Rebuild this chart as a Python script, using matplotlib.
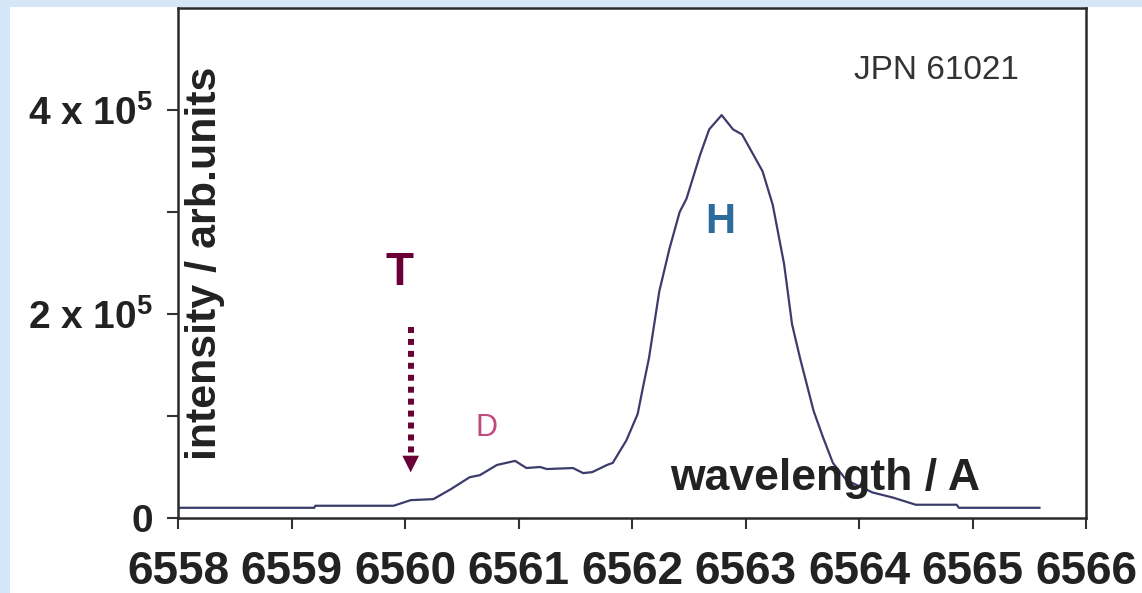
import matplotlib
matplotlib.use("Agg")
import matplotlib.pyplot as plt
from matplotlib.patches import Rectangle

# spectrum (wavelength in A, intensity in arb. units)
wavelength = [6558.0, 6559.2, 6559.21, 6559.9, 6560.05, 6560.25, 6560.4, 6560.57,
              6560.66, 6560.81, 6560.97, 6561.07, 6561.19, 6561.25, 6561.48, 6561.57,
              6561.65, 6561.78, 6561.83, 6561.95, 6562.05, 6562.1, 6562.15, 6562.24,
              6562.33, 6562.42, 6562.48, 6562.6, 6562.68, 6562.79, 6562.89, 6562.97,
              6563.15, 6563.24, 6563.34, 6563.41, 6563.48, 6563.6, 6563.68, 6563.77,
              6563.89, 6564.12, 6564.3, 6564.5, 6564.86, 6564.88, 6565.59]
intensity_1e4 = [1.0, 1.0, 1.2, 1.2, 1.75, 1.85, 2.8, 4.0,
                 4.2, 5.2, 5.6, 4.9, 5.0, 4.8, 4.9, 4.4,
                 4.5, 5.2, 5.4, 7.6, 10.2, 13.0, 15.7, 22.2,
                 26.4, 30.0, 31.3, 35.6, 38.1, 39.5, 38.1, 37.6,
                 34.0, 30.7, 24.9, 19.0, 15.7, 10.5, 8.0, 5.4,
                 3.7, 2.5, 2.0, 1.3, 1.3, 1.0, 1.0]
intensity = [v * 1e4 for v in intensity_1e4]

x_ticks = [6558, 6559, 6560, 6561, 6562, 6563, 6564, 6565, 6566]
y_ticks = [0, 1e5, 2e5, 3e5, 4e5]
y_tick_labels = ["0", "", "2 x 10$^{5}$", "", "4 x 10$^{5}$"]

plt.rcParams["font.family"] = ["Liberation Sans", "DejaVu Sans"]
plt.rcParams["mathtext.fontset"] = "custom"
plt.rcParams["mathtext.rm"] = "Liberation Sans:bold"
plt.rcParams["mathtext.bf"] = "Liberation Sans:bold"

W, H = 1142, 593
fig = plt.figure(figsize=(W / 100, H / 100), dpi=100, facecolor="#d5e6f8")
# white sheet behind the plot
fig.patches.append(Rectangle((10 / W, 0), 1, (H - 7) / H, transform=fig.transFigure,
                             facecolor="white", edgecolor="none", zorder=-5))

ax = fig.add_axes([178 / W, (H - 518) / H, (1086 - 178) / W, (518 - 8) / H])
ax.set_facecolor("white")

line_col = "#3c3c6c"
maroon = "#6a0036"
ax.plot(wavelength, intensity, color=line_col, lw=1.6)

ax.set_xlim(6558, 6566)
ax.set_ylim(0, 5e5)
ax.set_xticks(x_ticks)
ax.set_xticklabels([str(t) for t in x_ticks], fontsize=33, fontweight="bold", color="#222222")
ax.set_yticks(y_ticks)
ax.set_yticklabels(y_tick_labels, fontsize=28, fontweight="bold", color="#222222")
ax.tick_params(axis="x", direction="out", length=8, width=1.5, color="#333333", pad=15)
ax.tick_params(axis="y", direction="out", length=8, width=1.5, color="#333333", pad=10)
for s in ax.spines.values():
    s.set_color("#2a2a2a")
    s.set_linewidth(1.8)

# labels placed inside the frame, as in the original
ax.text(0.03, 0.5, "intensity / arb.units", transform=ax.transAxes, rotation=90,
        ha="center", va="center", fontsize=31, fontweight="bold", color="#222222")
ax.text(0.7126, 0.078, "wavelength / A", transform=ax.transAxes, ha="center", va="center",
        fontsize=32, fontweight="bold", color="#222222")
ax.text(0.835, 0.878, "JPN 61021", transform=ax.transAxes, ha="center", va="center",
        fontsize=24, color="#333333")

ax.text(6562.78, 2.9e5, "H", ha="center", va="center", fontsize=30, fontweight="bold",
        color="#2b6c9c")
ax.text(6560.72, 0.88e5, "D", ha="center", va="center", fontsize=22, color="#c04a7c")
ax.text(6559.95, 2.4e5, "T", ha="center", va="center", fontsize=33, fontweight="bold",
        color=maroon)

# dotted arrow pointing at T position
ax.plot([6560.05, 6560.05], [1.87e5, 0.6e5], color=maroon, lw=4.3,
        linestyle=(0, (1, 1)), solid_capstyle="butt", dash_capstyle="butt")
ax.annotate("", xy=(6560.05, 0.42e5), xytext=(6560.05, 0.6e5),
            arrowprops=dict(arrowstyle="-|>", color=maroon, lw=0, mutation_scale=30))

fig.savefig("out.png", dpi=100, facecolor=fig.get_facecolor())
